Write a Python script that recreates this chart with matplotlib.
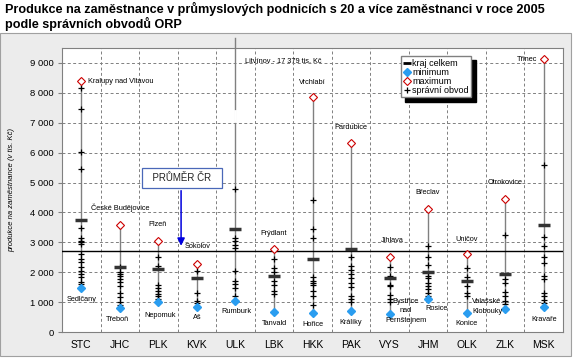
import matplotlib.pyplot as plt
from matplotlib.lines import Line2D
from matplotlib.patches import Rectangle

# kraje (NUTS3) a hodnoty v tis. Kč
regions = ['STC', 'JHC', 'PLK', 'KVK', 'ULK', 'LBK', 'HKK', 'PAK', 'VYS', 'JHM', 'OLK', 'ZLK', 'MSK']
kraj = [3750, 2190, 2100, 1790, 3430, 1860, 2440, 2780, 1790, 2020, 1690, 1940, 3570]
min_val = [1470, 800, 990, 820, 1040, 670, 630, 710, 590, 1120, 650, 760, 820]
min_name = ['Sedlčany', 'Třeboň', 'Nepomuk', 'Aš', 'Rumburk', 'Tanvald', 'Hořice', 'Králíky',
            'Bystřice\nnad\nPernštejnem', 'Rosice', 'Konice', 'Valašské\nKlobouky', 'Kravaře']
max_val = [8380, 3570, 3030, 2280, 17379, 2760, 7860, 6310, 2520, 4130, 2610, 4460, 9130]
max_name = ['Kralupy nad Vltavou', 'České Budějovice', 'Plzeň', 'Sokolov', 'Litvínov - 17 379 tis. Kč',
            'Frýdlant', 'Vrchlabí', 'Pardubice', 'Jihlava', 'Břeclav', 'Uničov', 'Otrokovice', 'Třinec']
obvody = [
    [8160, 7470, 6010, 5450, 3480, 3140, 3030, 3000, 2960, 2610, 2450, 2330, 2160, 2050, 1940, 1830, 1680, 1600],
    [2170, 2000, 1950, 1880, 1770, 1660, 1550, 1320, 1160, 990, 900],
    [2500, 2220, 1570, 1460, 1360, 1270, 1190, 1100, 1030],
    [2050, 1290, 1040, 960],
    [4780, 3140, 3030, 2920, 2810, 2050, 1720, 1600, 1460, 1210],
    [2440, 2130, 2000, 1720, 1570, 1380, 1270],
    [4430, 3430, 3140, 1830, 1720, 1640, 1570, 1380, 1210, 900],
    [2500, 2220, 2090, 1940, 1790, 1640, 1490, 1210, 1120, 1010],
    [2160, 1880, 1570, 1530, 1230, 1120, 1010],
    [2890, 2500, 2240, 1880, 1790, 1640, 1550, 1440, 1320, 1210, 1150],
    [2130, 1830, 1550, 1320, 1210],
    [3230, 1770, 1640, 1350, 1190, 1040, 930],
    [5580, 3170, 2870, 2500, 2310, 1880, 1770, 1320, 1210, 1080, 960],
]
prumer_cr = 2700

# posuny popisků (dx od kraje, y, zarovnání)
max_lbl = [(0.17, 8380, 'left'), (0, 4140, 'center'), (-0.01, 3580, 'center'), (-0.32, 2860, 'left'),
           (0.24, 9040, 'left'), (0, 3310, 'center'), (0, 8350, 'center'), (0, 6840, 'center'),
           (0.07, 3050, 'center'), (0, 4680, 'center'), (0, 3110, 'center'), (0, 5010, 'center'),
           (-0.17, 9110, 'right')]
min_lbl = [(0, 1080), (-0.05, 410), (0.04, 545), (0, 480), (0.03, 680), (0, 280), (0, 245), (0, 310),
           (0.42, 710), (0.22, 780), (0, 280), (-0.47, 860), (0, 420)]

YMAX = 9500
small = ['Liberation Sans Narrow', 'Liberation Sans', 'DejaVu Sans']
plt.rcParams['font.family'] = ['Liberation Sans', 'DejaVu Sans']

fig = plt.figure(figsize=(5.77, 3.6), dpi=100)
fig.add_artist(Rectangle((0, 4 / 360), 571 / 577, 323 / 360, transform=fig.transFigure,
                         facecolor='#ececec', edgecolor='#a0a0a0', lw=0.8, zorder=0))
ax = fig.add_axes([62 / 577, 28 / 360, 501 / 577, 284 / 360])
ax.set_facecolor('white')

blue = '#2a9df0'
red = '#cc0000'
for i, r in enumerate(regions):
    top = max_val[i] if max_val[i] < YMAX else 9840
    ax.plot([i, i], [min_val[i], top], color='#808080', lw=1.0, zorder=2, clip_on=False)
    if max_val[i] < YMAX:
        ax.plot(i, max_val[i], 'D', ms=4.5, mfc='white', mec=red, mew=0.8, zorder=5)
    else:
        # přerušení osy - mimo rozsah
        ax.plot([i, i], [7050, 7390], color='white', lw=2, zorder=3)
    ax.plot([i] * len(obvody[i]), obvody[i], '+', color='black', ms=5, mew=0.9, zorder=4)
    ax.plot(i, kraj[i], '_', color='#333333', ms=8, mew=2.5, zorder=4)
    ax.plot(i, min_val[i], 'D', ms=4.5, mfc=blue, mec=blue, zorder=5)

    dx, y, ha = max_lbl[i]
    ax.text(i + dx, y, max_name[i], ha=ha, va='center', fontsize=5.3, family=small, zorder=6)
    dx, y = min_lbl[i]
    ax.text(i + dx, y, min_name[i], ha='center', va='center', fontsize=5.3, family=small,
            linespacing=1.5, zorder=6)

ax.axhline(prumer_cr, color='black', lw=1.0, zorder=3)

ax.text(2.62, 5150, '  PRŮMĚR ČR  ', ha='center', va='center', fontsize=7, color='#222222',
        bbox=dict(boxstyle='square,pad=0.55', fc='white', ec='#4a68b8', lw=0.9), zorder=7)
ax.annotate('', xy=(2.59, 2790), xytext=(2.59, 4820),
            arrowprops=dict(arrowstyle='-|>', color='#0000dd', lw=1.1, mutation_scale=11), zorder=7)

ax.set_xlim(-0.5, len(regions) - 0.5)
ax.set_ylim(0, YMAX)
ax.set_xticks(range(len(regions)))
ax.set_xticklabels(regions, fontsize=7.5)
ax.set_xticks([i + 0.5 for i in range(len(regions) - 1)], minor=True)
ax.set_yticks(range(0, 9001, 1000))
ax.set_yticklabels([f'{v:,}'.replace(',', '\u00a0') for v in range(0, 9001, 1000)], fontsize=6.8)
ax.tick_params(axis='x', which='both', length=0, pad=6)
ax.tick_params(axis='y', length=3, color='#808080', pad=3)
ax.grid(axis='y', which='major', color='#808080', ls=(0, (3, 2.5)), lw=0.7)
ax.grid(axis='x', which='minor', color='#808080', ls=(0, (3, 2.5)), lw=0.7)
ax.set_axisbelow(True)
for s in ax.spines.values():
    s.set_color('#808080')

handles = [
    Line2D([], [], marker='_', color='black', ls='', ms=6, mew=2),
    Line2D([], [], marker='D', color=blue, ls='', ms=4),
    Line2D([], [], marker='D', mfc='white', mec=red, ls='', ms=4, mew=0.8),
    Line2D([], [], marker='+', color='black', ls='', ms=5, mew=0.9),
]
leg = ax.legend(handles, ['kraj celkem', 'minimum', 'maximum', 'správní obvod'],
                loc='upper left', bbox_to_anchor=(0.677, 0.972), fontsize=6.5,
                handlelength=0.7, handletextpad=0.2, labelspacing=0.0, borderpad=0.3,
                borderaxespad=0, fancybox=False, framealpha=1, edgecolor='#808080',
                shadow={'ox': 3, 'oy': -3, 'shade': 1.0, 'alpha': 1})
leg.set_zorder(8)

fig.text(12 / 577, 0.472, 'produkce na zaměstnance (v tis. Kč)', rotation=90, ha='center',
         va='center', fontsize=5.5, style='italic', family=small)
fig.text(5 / 577, 1 - 2 / 360,
         'Produkce na zaměstnance v průmyslových podnicích s 20 a více zaměstnanci v roce 2005\n'
         'podle správních obvodů ORP', ha='left', va='top', fontsize=9.1, fontweight='bold',
         linespacing=1.05)

fig.savefig('out.png', dpi=100)
